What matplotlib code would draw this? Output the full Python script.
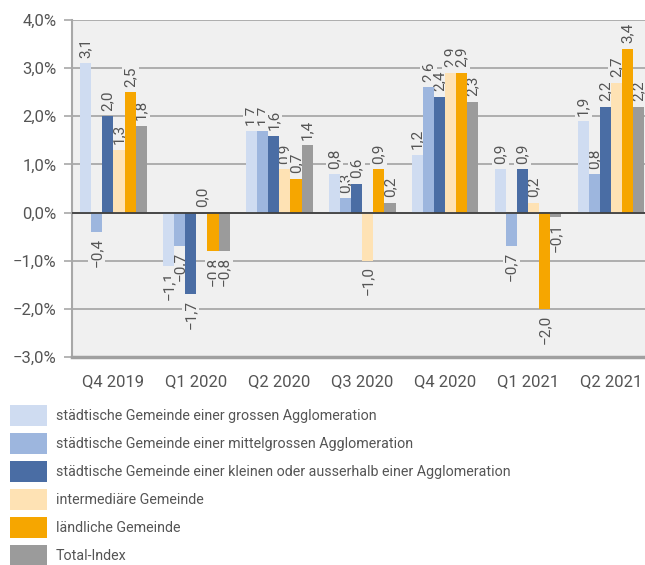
import matplotlib
matplotlib.use("Agg")
import matplotlib.pyplot as plt
import numpy as np

plt.rcParams['font.family'] = ['Roboto', 'DejaVu Sans']

quarters = ["Q4 2019", "Q1 2020", "Q2 2020", "Q3 2020", "Q4 2020", "Q1 2021", "Q2 2021"]
series_names = [
    "städtische Gemeinde einer grossen Agglomeration",
    "städtische Gemeinde einer mittelgrossen Agglomeration",
    "städtische Gemeinde einer kleinen oder ausserhalb einer Agglomeration",
    "intermediäre Gemeinde",
    "ländliche Gemeinde",
    "Total-Index",
]
gross = [3.1, -1.1, 1.7, 0.8, 1.2, 0.9, 1.9]
mittel = [-0.4, -0.7, 1.7, 0.3, 2.6, -0.7, 0.8]
klein = [2.0, -1.7, 1.6, 0.6, 2.4, 0.9, 2.2]
intermed = [1.3, 0.0, 0.9, -1.0, 2.9, 0.2, 2.7]
laendlich = [2.5, -0.8, 0.7, 0.9, 2.9, -2.0, 3.4]
total = [1.8, -0.8, 1.4, 0.2, 2.3, -0.1, 2.2]
series = [gross, mittel, klein, intermed, laendlich, total]
colors = ["#cfdcf1", "#9db6de", "#4a6da4", "#fee2b4", "#f6a600", "#9b9b9b"]

text_col = "#555555"
bg = "#f0f0f0"

fig = plt.figure(figsize=(6.45, 5.65), dpi=100)
ax = fig.add_axes([72 / 645, 1 - 357 / 565, 1 - 72 / 645, 337 / 565])
ax.set_facecolor(bg)

x = np.arange(len(quarters))
w = 0.134
handles = []
for i, (vals, c) in enumerate(zip(series, colors)):
    bars = ax.bar(x + (i - 2.5) * w, vals, w, color=c, zorder=3)
    handles.append(bars)
    for rect, v in zip(bars, vals):
        lbl = f"{v:.1f}".replace(".", ",").replace("-", "\u2212")
        cx = rect.get_x() + rect.get_width() / 2
        ax.annotate(lbl, (cx, v), xytext=(0, 4 if v >= 0 else -4), textcoords="offset points",
                    rotation=90, ha="center", va="bottom" if v >= 0 else "top",
                    fontsize=11, color=text_col, zorder=2,
                    bbox=dict(boxstyle="square,pad=0.1", fc=bg, ec="none"))

ax.set_ylim(-3, 4)
ax.set_xlim(-0.5, 6.41)
ax.set_yticks(np.arange(-3, 5))
ax.set_yticklabels([f"{t:.1f}%".replace(".", ",").replace("-", "\u2212") for t in range(-3, 5)])
ax.set_xticks(x)
ax.set_xticklabels(quarters)
ax.grid(axis="y", color="#a8a8a8", lw=1.3, zorder=1)
ax.axhline(0, color="#404040", lw=1.3, zorder=5)
ax.tick_params(axis="y", length=6, width=1.2, color="#a8a8a8", pad=5, labelsize=12, labelcolor=text_col)
ax.tick_params(axis="x", length=0, pad=12, labelsize=12, labelcolor=text_col)
for s in ["top", "right"]:
    ax.spines[s].set_visible(False)
ax.spines["left"].set_color("#a8a8a8")
ax.spines["left"].set_linewidth(1.5)
ax.spines["bottom"].set_color("#a0a0a0")
ax.spines["bottom"].set_linewidth(2.5)

fig.legend(handles, series_names, loc="upper left", bbox_to_anchor=(10 / 645, 1 - 405 / 565),
           frameon=False, fontsize=10.3, labelcolor=text_col, handlelength=2.58, handleheight=1.88,
           labelspacing=0.495, handletextpad=0.63, borderaxespad=0, borderpad=0)

fig.savefig("out.png", dpi=100)
